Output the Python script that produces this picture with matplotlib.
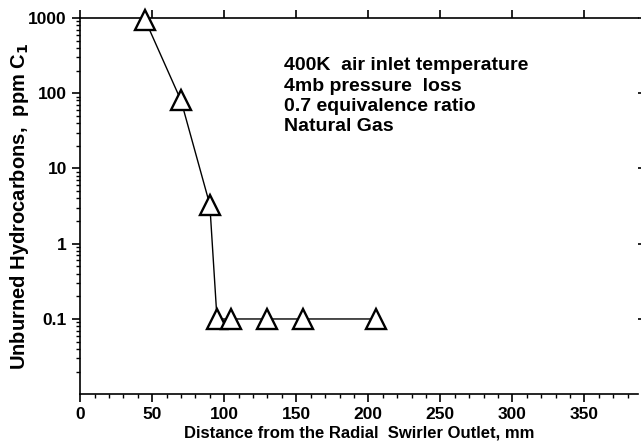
import matplotlib
matplotlib.use("Agg")
import matplotlib.pyplot as plt
from matplotlib.ticker import MultipleLocator, FixedLocator, NullFormatter

plt.rcParams['font.family'] = ['Liberation Sans', 'DejaVu Sans']

# data
dist = [45, 70, 90, 95, 105, 130, 155, 205]
uhc = [950, 80, 3.3, 0.1, 0.1, 0.1, 0.1, 0.1]
xticks = [0, 50, 100, 150, 200, 250, 300, 350]
yticks = [0.1, 1, 10, 100, 1000]
ylabels = ['0.1', '1', '10', '100', '1000']
notes = ["400K  air inlet temperature", "4mb pressure  loss",
         "0.7 equivalence ratio", "Natural Gas"]

fig = plt.figure(figsize=(6.41, 4.48), dpi=100)
ax = fig.add_axes([0.125, 0.12, 0.87, 0.84])

ax.plot(dist, uhc, color='black', linewidth=1.0, marker='^', markersize=14,
        markerfacecolor='white', markeredgecolor='black', markeredgewidth=1.7,
        clip_on=False, zorder=3)

ax.set_yscale('log')
ax.set_xlim(0, 387)
ax.set_ylim(0.01, 1000)

ax.set_xticks(xticks)
ax.set_xticklabels([str(t) for t in xticks], fontsize=12.5, fontweight='bold')
ax.xaxis.set_minor_locator(MultipleLocator(10))
ax.set_yticks(yticks)
ax.set_yticklabels(ylabels, fontsize=12.5, fontweight='bold')
minors = [m * 10.0 ** e for e in range(-2, 3) for m in range(2, 10)]
ax.yaxis.set_minor_locator(FixedLocator(minors))
ax.yaxis.set_minor_formatter(NullFormatter())

ax.tick_params(axis='both', which='major', direction='out', length=6, width=1.2)
ax.tick_params(axis='both', which='minor', direction='out', length=3, width=1)
ax.tick_params(top=True, right=True, which='major')

for s in ax.spines.values():
    s.set_linewidth(1.2)
ax.spines['right'].set_visible(False)

ax.set_xlabel("Distance from the Radial  Swirler Outlet, mm", fontsize=12,
              fontweight='bold', labelpad=2)
ax.set_ylabel("Unburned Hydrocarbons,  ppm C$_\\mathbf{1}$", fontsize=14.5,
              fontweight='bold', va='bottom')
ax.yaxis.set_label_coords(-0.088, 0.5)

ax.text(0.365, 0.895, "\n".join(notes), transform=ax.transAxes, fontsize=14,
        fontweight='bold', va='top', ha='left', linespacing=1.25)

fig.savefig("out.png", dpi=100)
